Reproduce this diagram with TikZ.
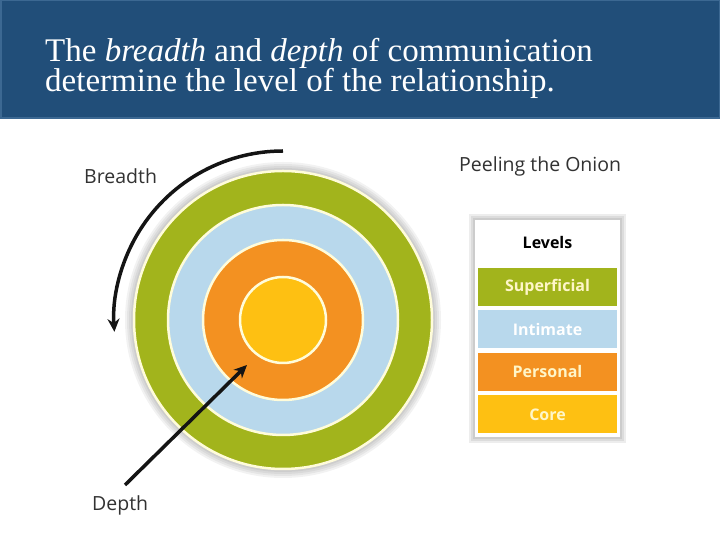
\documentclass[tikz,border=0pt]{standalone}
\usepackage{fontspec}
\setmainfont{Liberation Serif}
\newfontfamily\labelfont{Open Sans}
\usetikzlibrary{arrows.meta}
\definecolor{hdrblue}{RGB}{33,78,121}
\definecolor{hdredge}{RGB}{60,104,146}
\definecolor{ringgreen}{RGB}{162,180,28}
\definecolor{ringblue}{RGB}{184,216,236}
\definecolor{ringorange}{RGB}{243,145,33}
\definecolor{ringyellow}{RGB}{254,192,18}
\definecolor{creamline}{RGB}{255,252,218}
\definecolor{creamtext}{RGB}{255,246,200}
\definecolor{labelgray}{RGB}{50,50,50}
\tikzset{
  ring/.style={draw=creamline, line width=2.5pt},
  lbl/.style={font=\labelfont\fontsize{19.5}{22}\selectfont, text=labelgray, inner sep=0pt},
  titletext/.style={font=\fontsize{33}{30}\selectfont, text=white, inner sep=0pt, anchor=base west},
  legrow/.style={minimum width=139pt, minimum height=38pt, inner sep=0pt, text=creamtext,
    font=\labelfont\bfseries\fontsize{16}{18}\selectfont},
  bigarrow/.style={line width=3.5pt, draw=black!92, -{Stealth[length=13pt,width=12pt]}}
}
\begin{document}
\begin{tikzpicture}[x=1pt,y=1pt]
\useasboundingbox (0,0) rectangle (720,540);
\fill[white] (0,0) rectangle (720,540);
% header
\fill[hdrblue] (0,421) rectangle (720,540);
\draw[hdredge, line width=1.5pt] (0.75,421.75) rectangle (719.25,539.25);
\node[titletext] (t1) at (45,478) {The \textit{breadth} and \textit{depth} of communication};
\node[titletext] (t2) at (45,448) {determine the level of the relationship.};
% onion
\coordinate (C) at (283,220);
\foreach \r in {158,156,154,152}
  \fill[black, opacity=0.05] (C) circle (\r);
\filldraw[ring, fill=ringgreen] (C) circle (149);
\filldraw[ring, fill=ringblue] (C) circle (115);
\filldraw[ring, fill=ringorange] (C) circle (80);
\filldraw[ring, fill=ringyellow] (C) circle (43);
% labels
\node[lbl, anchor=base west] (breadth) at (84,356) {Breadth};
\node[lbl, anchor=base west] (depth) at (92,29) {Depth};
\node[lbl, anchor=base west] (peel) at (459,368) {Peeling the Onion};
% arrows
\coordinate (bstart) at (283,389);
\draw[bigarrow] (bstart) arc[start angle=90, end angle=184, radius=169] coordinate (bend);
\coordinate (dstart) at (125,55);
\coordinate (dend) at (247,175);
\draw[bigarrow] (dstart) -- (dend);
% legend
\foreach \d in {6,4,2}
  \fill[black, opacity=0.07] (475-\d,103-\d) rectangle (620+\d,320+\d);
\fill[white] (475,103) rectangle (620,320);
\node[font=\labelfont\bfseries\fontsize{16}{18}\selectfont, text=black] (levels) at (547.5,297) {Levels};
\node[legrow, fill=ringgreen] (sup) at (547.5,253) {Superficial};
\node[legrow, fill=ringblue, text=white] (inti) at (547.5,210.5) {Intimate};
\node[legrow, fill=ringorange] (pers) at (547.5,168) {Personal};
\node[legrow, fill=ringyellow] (core) at (547.5,125.5) {Core};
\end{tikzpicture}
\end{document}
